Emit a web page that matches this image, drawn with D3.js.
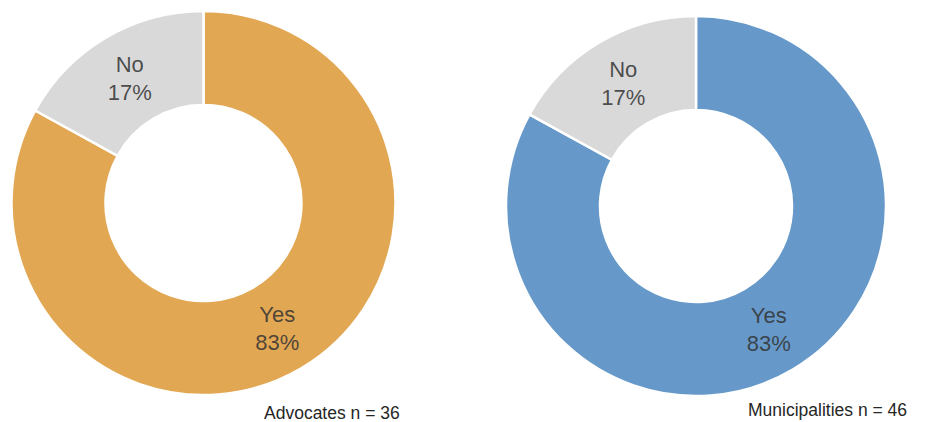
<!DOCTYPE html>
<html>
<head>
<meta charset="utf-8">
<script src="https://cdn.jsdelivr.net/npm/d3@7"></script>
<style>
  html, body { margin: 0; padding: 0; background: #fff; }
  svg { display: block; }
  text { font-family: "Liberation Sans", Arial, sans-serif; }
</style>
</head>
<body>
<svg id="chart" width="925" height="422"></svg>
<script>
// Survey answers: share of respondents per answer
const categories = ["Yes", "No"];
const advocatesValues = [83, 17];
const municipalitiesValues = [83, 17];
const groupTitles = ["Advocates n = 36", "Municipalities n = 46"];

const svg = d3.select("#chart");

const panels = [
  { values: advocatesValues, title: groupTitles[0], cx: 203.5, cy: 203, r: 192, inner: 98,
    colors: ["#E2A753", "#D9D9D9"], titleX: 264, titleY: 419 },
  { values: municipalitiesValues, title: groupTitles[1], cx: 696, cy: 206, r: 190, inner: 96,
    colors: ["#6699C9", "#D9D9D9"], titleX: 748, titleY: 416 }
];

const pie = d3.pie().sort(null).value(d => d.value);

panels.forEach(p => {
  const data = categories.map((c, i) => ({ label: c, value: p.values[i] }));
  const color = d3.scaleOrdinal().domain(categories).range(p.colors);
  const arc = d3.arc().innerRadius(p.inner).outerRadius(p.r);

  const g = svg.append("g").attr("transform", `translate(${p.cx},${p.cy})`);
  const arcs = pie(data);

  g.selectAll("path")
    .data(arcs)
    .join("path")
    .attr("d", arc)
    .attr("fill", d => color(d.data.label))
    .attr("stroke", "#fff")
    .attr("stroke-width", 2.5);

  const labels = g.selectAll("text.lbl")
    .data(arcs)
    .join("text")
    .attr("class", "lbl")
    .attr("transform", d => `translate(${arc.centroid(d)})`)
    .attr("text-anchor", "middle")
    .attr("font-size", 22)
    .attr("fill", "#333")
    .attr("fill-opacity", 0.85);

  labels.append("tspan").attr("x", 0).attr("y", -6).text(d => d.data.label);
  labels.append("tspan").attr("x", 0).attr("y", 22).text(d => d.data.value + "%");

  svg.append("text")
    .attr("x", p.titleX)
    .attr("y", p.titleY)
    .attr("font-size", 17.5)
    .attr("fill", "#262626")
    .text(p.title);
});
</script>
</body>
</html>
